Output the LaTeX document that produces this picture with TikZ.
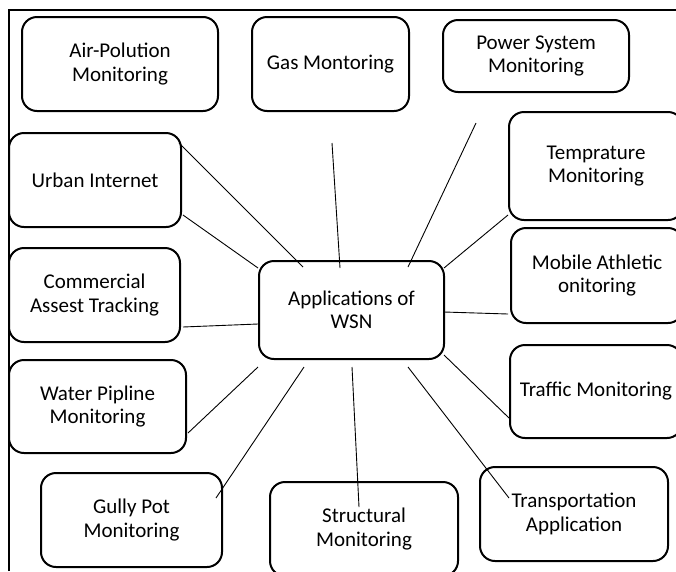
\documentclass[tikz,border=0pt]{standalone}
\usepackage{fontspec}
\setmainfont{Carlito}
\begin{document}
\begin{tikzpicture}[x=1pt,y=-1pt,
  box/.style={draw, line width=2pt, rounded corners=15pt, align=center,
    font=\fontsize{21}{23.5}\selectfont, inner sep=0pt},
  link/.style={line width=0.9pt},
  frame/.style={line width=1.2pt}]
\useasboundingbox (0,0) rectangle (676,571);
\begin{scope}
\clip (0,0) rectangle (676,571);
\coordinate (fb) at (9,571);
\coordinate (ftl) at (9,10);
\coordinate (ftr) at (676,10);
\draw[frame] (fb) -- (ftl) -- (ftr);

\node[box, minimum width=196pt, minimum height=94pt] (air) at (120,64) {Air-Polution\\Monitoring};
\node[box, minimum width=157pt, minimum height=94pt] (gas) at (330.5,64) {Gas Montoring};
\node[box, minimum width=186pt, minimum height=72pt] (power) at (536,56) {Power System\\Monitoring};
\node[box, minimum width=174pt, minimum height=108pt] (temp) at (596,166) {Temprature\\Monitoring};
\node[box, minimum width=172pt, minimum height=94pt] (urban) at (95,180) {Urban Internet};
\node[box, minimum width=185pt, minimum height=98pt] (app) at (351.5,310) {Applications of\\WSN};
\node[box, minimum width=172pt, minimum height=95pt] (mobile) at (597,275.5) {Mobile Athletic\\onitoring};
\node[box, minimum width=171pt, minimum height=94pt] (comm) at (94.5,295) {Commercial\\Assest Tracking};
\node[box, minimum width=177pt, minimum height=93pt] (water) at (97.5,406.5) {Water Pipline\\Monitoring};
\node[box, minimum width=172pt, minimum height=93pt] (traffic) at (596,391.5) {Traffic Monitoring};
\node[box, minimum width=181pt, minimum height=94pt] (gully) at (131.5,520) {Gully Pot\\Monitoring};
\node[box, minimum width=188pt, minimum height=94pt] (struct) at (364,529) {Structural\\Monitoring};
\node[box, minimum width=188pt, minimum height=94pt] (trans) at (574,514) {Transportation\\Application};

\coordinate (ua1) at (179,143);  \coordinate (ua2) at (303,267);
\coordinate (ub1) at (183,215);  \coordinate (ub2) at (258,268);
\coordinate (g1) at (332,143);   \coordinate (g2) at (340,268);
\coordinate (p1) at (476,123);   \coordinate (p2) at (408,267);
\coordinate (t1) at (508,215);   \coordinate (t2) at (444,268);
\coordinate (c1) at (183,327);   \coordinate (c2) at (258,324);
\coordinate (m1) at (508,314);   \coordinate (m2) at (444,312);
\coordinate (w1) at (188,433);   \coordinate (w2) at (258,367);
\coordinate (gu1) at (216,498);  \coordinate (gu2) at (304,367);
\coordinate (s1) at (359,507);   \coordinate (s2) at (352,367);
\coordinate (tr1) at (509,418);  \coordinate (tr2) at (444,355);
\coordinate (tp1) at (509,498);  \coordinate (tp2) at (408,367);

\draw[link] (ua1) -- (ua2);
\draw[link] (ub1) -- (ub2);
\draw[link] (g1) -- (g2);
\draw[link] (p1) -- (p2);
\draw[link] (t1) -- (t2);
\draw[link] (c1) -- (c2);
\draw[link] (m1) -- (m2);
\draw[link] (w1) -- (w2);
\draw[link] (gu1) -- (gu2);
\draw[link] (s1) -- (s2);
\draw[link] (tr1) -- (tr2);
\draw[link] (tp1) -- (tp2);
\end{scope}
\end{tikzpicture}
\end{document}
